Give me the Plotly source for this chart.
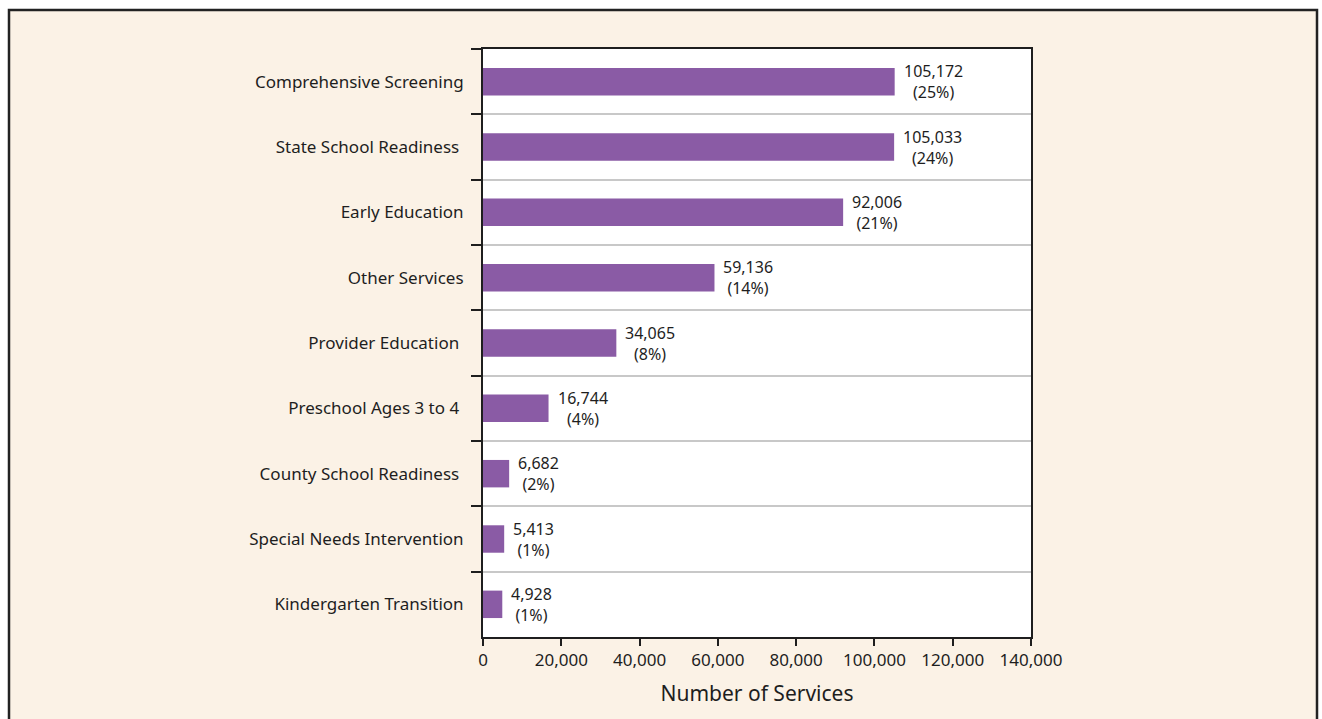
import plotly.graph_objects as go

# Services provided, by category (top to bottom)
categories = [
    "Comprehensive Screening",
    "State School Readiness\u00a0",
    "Early Education",
    "Other Services",
    "Provider Education\u00a0",
    "Preschool Ages 3 to 4\u00a0",
    "County School Readiness\u00a0",
    "Special Needs Intervention",
    "Kindergarten Transition",
]
services = [105172, 105033, 92006, 59136, 34065, 16744, 6682, 5413, 4928]
percents = [25, 24, 21, 14, 8, 4, 2, 1, 1]
x_ticks = [0, 20000, 40000, 60000, 80000, 100000, 120000, 140000]
x_tick_labels = ["0", "20,000", "40,000", "60,000", "80,000", "100,000", "120,000", "140,000"]

W, H = 1322, 719
ML, MR, MT, MB = 483, 291, 49, 82
PW, PH = W - ML - MR, H - MT - MB

BAR = "#8A5BA5"
INK = "#1e1e1e"
FONT = "Noto Sans"

fig = go.Figure(
    go.Bar(
        x=services,
        y=categories,
        orientation="h",
        marker=dict(color=BAR, line=dict(width=0)),
        width=0.42,
        hoverinfo="skip",
    )
)

for cat, val, pct in zip(categories, services, percents):
    fig.add_annotation(
        x=val, y=cat, xref="x", yref="y",
        text=f"{val:,}<br>({pct}%)",
        showarrow=False, xanchor="left", yanchor="middle",
        align="center", xshift=7,
        font=dict(family=FONT, size=16, color=INK),
    )

# Beige panel with dark frame behind the chart
def px_x(p):
    return (p - ML) / PW

def px_y(p):
    return (H - MB - p) / PH

fig.add_shape(
    type="rect", xref="paper", yref="paper", layer="below",
    x0=px_x(9), x1=px_x(1317), y0=px_y(760), y1=px_y(10),
    fillcolor="#FBF2E6", line=dict(color="#222222", width=2.5),
)
# White plotting area on top of the panel
fig.add_shape(
    type="rect", xref="paper", yref="paper", layer="below",
    x0=0, x1=1, y0=0, y1=1,
    fillcolor="white", line=dict(width=0),
)

fig.update_layout(
    width=W, height=H,
    margin=dict(l=ML, r=MR, t=MT, b=MB),
    paper_bgcolor="white",
    plot_bgcolor="white",
    showlegend=False,
    font=dict(family=FONT, color=INK),
)

fig.update_xaxes(
    range=[0, 140000],
    tickvals=x_ticks, ticktext=x_tick_labels,
    ticks="outside", ticklen=7, tickwidth=2, tickcolor=INK,
    tickfont=dict(family=FONT, size=17, color=INK),
    showline=True, linecolor=INK, linewidth=2, mirror=True,
    showgrid=False, zeroline=False,
    title=dict(text="Number of Services", font=dict(family=FONT, size=21, color=INK), standoff=16),
)

fig.update_yaxes(
    autorange="reversed",
    tickson="boundaries",
    ticks="outside", ticklen=10, tickwidth=2, tickcolor=INK,
    tickfont=dict(family=FONT, size=17, color=INK),
    showline=True, linecolor=INK, linewidth=2, mirror=True,
    showgrid=True, gridcolor="#C8C8C8", gridwidth=1.5,
    ticklabelstandoff=14,
)

fig.write_html("out.html")
